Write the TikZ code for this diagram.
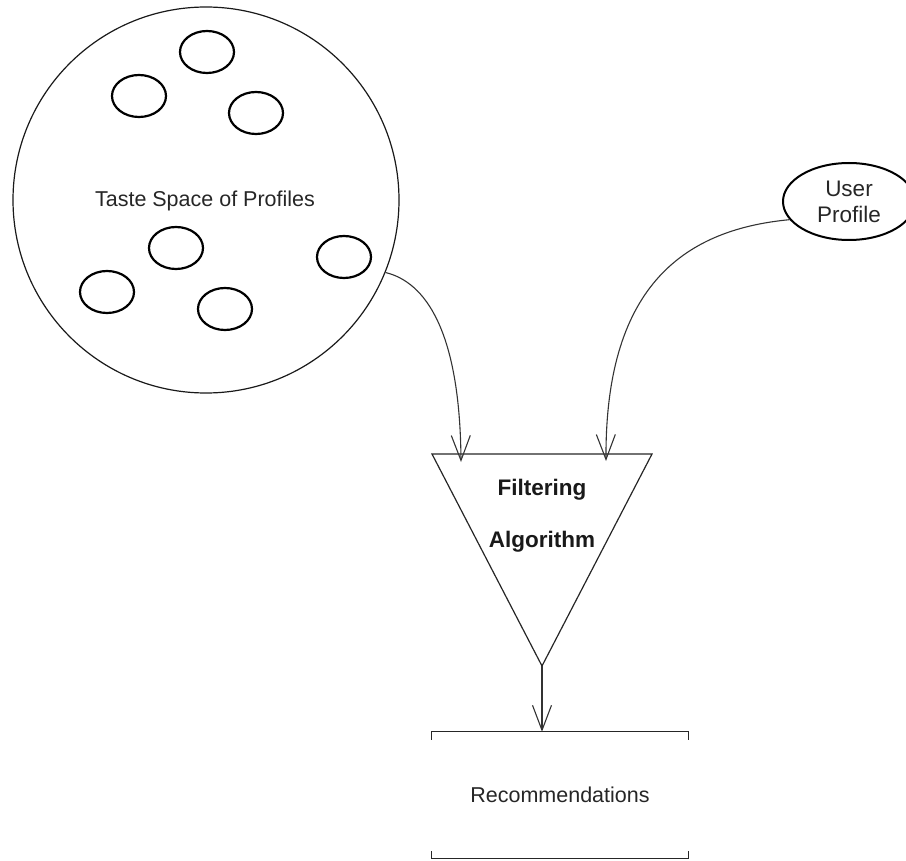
\documentclass[tikz,border=0pt]{standalone}
\usepackage{fontspec}
\setmainfont{Liberation Sans}
\usetikzlibrary{shapes.geometric,arrows.meta}

\tikzset{
  label text/.style={font=\fontsize{21.5}{26}\selectfont, text=black!85},
  space/.style={circle, draw=black!90, line width=1.2pt, minimum size=386pt, inner sep=0pt},
  profile/.style={ellipse, draw=black, line width=2.2pt, minimum width=54pt, minimum height=42pt, inner sep=0pt},
  user/.style={ellipse, draw=black, line width=2pt, minimum width=132pt, minimum height=77pt, inner sep=0pt, align=center,
    font=\fontsize{22.5}{26}\selectfont, text=black!85},
  flow/.style={draw=black!80, line width=1.1pt, -{Straight Barb[length=25pt, width=19pt, line width=1.1pt]}},
  frame/.style={draw=black!85, line width=1.2pt},
}

\begin{document}
\begin{tikzpicture}[x=1pt, y=-1pt]
  \useasboundingbox (0,0) rectangle (906,861);

  % taste space with its sample profiles
  \node[space] (space) at (206,200) {};
  \node[label text] (spacetext) at (205,201) {Taste Space of Profiles};
  \node[profile] (p1) at (207,52) {};
  \node[profile] (p2) at (139,96) {};
  \node[profile] (p3) at (256,113) {};
  \node[profile] (p4) at (176,248) {};
  \node[profile] (p5) at (344,257) {};
  \node[profile] (p6) at (107,292) {};
  \node[profile] (p7) at (225,309) {};

  % the active user
  \node[user] (user) at (849,201.5) {User\\Profile};

  % filtering funnel
  \coordinate (ftl) at (432,454);
  \coordinate (ftr) at (652,454);
  \coordinate (fapex) at (542,666);
  \draw[frame] (ftl) -- (ftr) -- (fapex) -- cycle;
  \node[align=center, font=\bfseries\fontsize{22.5}{52}\selectfont, text=black!90] (filter) at (542,516) {Filtering\\Algorithm};
  \coordinate (inleft) at (461,454);
  \coordinate (inright) at (606,454);

  % recommendations bracket
  \node[minimum width=256pt, minimum height=126pt, inner sep=0pt, label text] (rec) at (560,795) {Recommendations};
  \draw[frame] ([yshift=-8pt]rec.north west) -- (rec.north west) -- (rec.north east) -- ([yshift=-8pt]rec.north east);
  \draw[frame] ([yshift=7pt]rec.south west) -- (rec.south west) -- (rec.south east) -- ([yshift=7pt]rec.south east);

  % connectors
  \draw[flow] (space.-22) .. controls (425,282) and (460,330) .. ([yshift=-8pt]inleft);
  \draw[flow] (user.197) .. controls (680,230) and (605,290) .. ([yshift=-7pt]inright);
  \draw[flow] (fapex) -- (fapex |- rec.north);
\end{tikzpicture}
\end{document}
